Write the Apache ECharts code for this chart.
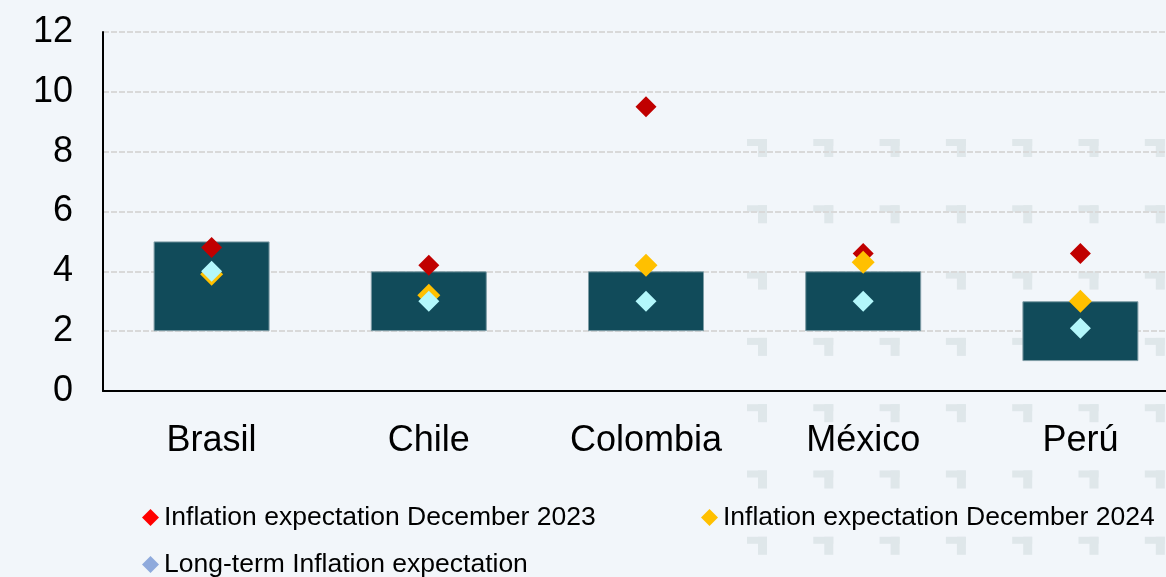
<!DOCTYPE html>
<html>
<head>
<meta charset="utf-8">
<title>Inflation expectations vs. target ranges</title>
<script src="https://cdn.jsdelivr.net/npm/echarts@6/dist/echarts.min.js"></script>
<style>
  html, body { margin: 0; padding: 0; background: #f2f6fa; }
  #chart { width: 1166px; height: 577px; }
</style>
</head>
<body>
<div id="chart"></div>
<script>
// Countries and inflation target ranges (lower / upper bound, %)
const countries = ['Brasil', 'Chile', 'Colombia', 'México', 'Perú'];
const targetLow = [2, 2, 2, 2, 1];
const targetHigh = [5, 4, 4, 4, 3];

// Inflation expectations (%)
const expDec2023 = [4.8, 4.2, 9.5, 4.6, 4.6];
const expDec2024 = [3.9, 3.2, 4.2, 4.3, 3.0];
const expLongTerm = [4.0, 3.0, 3.0, 3.0, 2.1];

const yTicks = [0, 2, 4, 6, 8, 10, 12];

const FONT = '"Liberation Sans", Arial, sans-serif';
const NAME_23 = 'Inflation expectation December 2023';
const NAME_24 = 'Inflation expectation December 2024';
const NAME_LT = 'Long-term Inflation expectation';

// Height of each target band, stacked on its lower bound
const bandHeight = targetHigh.map((h, i) => h - targetLow[i]);

// Decorative background pattern of small corner marks
const pattern = [];
for (let r = 0; r < 7; r++) {
  for (let c = 0; c < 7; c++) {
    const x = 747 + c * 66.3;
    const y = 139 + r * 66.3;
    pattern.push({ type: 'rect', shape: { x: x, y: y, width: 20, height: 7 } });
    pattern.push({ type: 'rect', shape: { x: x + 11, y: y, width: 9, height: 18 } });
  }
}

const legendText = { fontSize: 26.5, color: '#000', fontFamily: FONT };

const chart = echarts.init(document.getElementById('chart'));
chart.setOption({
  backgroundColor: '#f2f6fa',
  animation: false,
  textStyle: { fontFamily: FONT },
  graphic: [{
    type: 'group',
    z: -10,
    silent: true,
    children: pattern.map(p => Object.assign(p, { style: { fill: '#dfe7ea' } }))
  }],
  grid: { left: 103, top: 32, right: -23, bottom: 186, containLabel: false, outerBoundsMode: 'none' },
  legend: [
    {
      left: 137, top: 499, itemWidth: 17, itemHeight: 17, icon: 'diamond',
      textStyle: legendText,
      data: [{ name: NAME_23, itemStyle: { color: '#ff0000', opacity: 1 } }],
      selectedMode: false
    },
    {
      left: 696, top: 499, itemWidth: 17, itemHeight: 17, icon: 'diamond',
      textStyle: legendText,
      data: [{ name: NAME_24, itemStyle: { color: '#ffc000', opacity: 1 } }],
      selectedMode: false
    },
    {
      left: 137, top: 546, itemWidth: 17, itemHeight: 17, icon: 'diamond',
      textStyle: legendText,
      data: [{ name: NAME_LT, itemStyle: { color: '#8faadc', opacity: 1 } }],
      selectedMode: false
    }
  ],
  xAxis: {
    type: 'category',
    data: countries,
    axisLine: { lineStyle: { color: '#000', width: 2 } },
    axisTick: { show: false },
    axisLabel: { fontSize: 36, color: '#000', margin: 32, fontFamily: FONT },
    splitLine: { show: false }
  },
  yAxis: {
    type: 'value',
    min: yTicks[0],
    max: yTicks[yTicks.length - 1],
    interval: 2,
    axisLine: { show: true, lineStyle: { color: '#000', width: 2 } },
    axisTick: { show: false },
    axisLabel: { fontSize: 36, color: '#000', margin: 30, fontFamily: FONT },
    splitLine: { lineStyle: { color: '#d9d9d9', width: 2, type: [6, 2] } }
  },
  series: [
    {
      name: 'base',
      type: 'bar',
      stack: 'band',
      data: targetLow,
      barWidth: '53.4%',
      itemStyle: { color: 'transparent' },
      silent: true
    },
    {
      name: 'Target range',
      type: 'bar',
      stack: 'band',
      data: bandHeight,
      barWidth: '53.4%',
      itemStyle: { color: '#114b5a', borderColor: '#7e9ca5', borderWidth: 1 }
    },
    {
      name: NAME_23,
      type: 'scatter',
      data: expDec2023,
      symbol: 'diamond',
      symbolSize: 21,
      itemStyle: { color: '#c00000', opacity: 1 },
      z: 3
    },
    {
      name: NAME_24,
      type: 'scatter',
      data: expDec2024,
      symbol: 'diamond',
      symbolSize: 23,
      itemStyle: { color: '#ffc000', opacity: 1 },
      z: 4
    },
    {
      name: NAME_LT,
      type: 'scatter',
      data: expLongTerm,
      symbol: 'diamond',
      symbolSize: 21,
      itemStyle: { color: '#b3f7fb', opacity: 1 },
      z: 5
    }
  ]
});
</script>
</body>
</html>
